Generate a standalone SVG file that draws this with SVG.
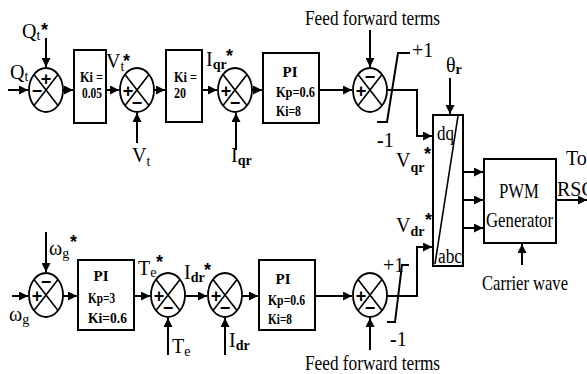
<svg xmlns="http://www.w3.org/2000/svg" xmlns:xlink="http://www.w3.org/1999/xlink" width="587" height="374" viewBox="0 0 587 374">
<style>
.ln{stroke:#000;stroke-width:2;fill:none}
.box{fill:#fff;stroke:#000;stroke-width:2}
.t{font-family:"Liberation Serif",serif;font-size:20px;fill:#000}
.L{font-size:22px}
.s{font-size:14px}
.sb{font-size:14px;font-weight:bold}
.b{font-family:"Liberation Serif",serif;font-weight:bold;font-size:15px;fill:#000}
.st{font-family:"Liberation Sans",sans-serif;font-weight:bold;font-size:18px;fill:#000}
.sg{font-family:"Liberation Sans",sans-serif;font-weight:bold;font-size:18px;text-anchor:middle;fill:#000}
</style>
<defs>
<marker id="ah" markerUnits="userSpaceOnUse" markerWidth="10" markerHeight="9" refX="9" refY="4.5" orient="auto">
<path d="M0,0 L9,4.5 L0,9 z" fill="#000"/>
</marker>
<g id="sumbase">
<ellipse cx="0" cy="0" rx="17" ry="22" fill="#fff" stroke="#000" stroke-width="1.8"/>
<path d="M-12,-15.5 L12,15.5 M12,-15.5 L-12,15.5" stroke="#000" stroke-width="1.6"/>
</g>
</defs>

<g id="connectors">
<path class="ln" d="M8,90 H28" marker-end="url(#ah)"/>
<path class="ln" d="M46,38 V67" marker-end="url(#ah)"/>
<path class="ln" d="M63,90 H73" marker-end="url(#ah)"/>
<path class="ln" d="M106,90 H119" marker-end="url(#ah)"/>
<path class="ln" d="M137,143 V113" marker-end="url(#ah)"/>
<path class="ln" d="M154,90 H165" marker-end="url(#ah)"/>
<path class="ln" d="M202,90 H217" marker-end="url(#ah)"/>
<path class="ln" d="M236,150 V113" marker-end="url(#ah)"/>
<path class="ln" d="M252,90 H262" marker-end="url(#ah)"/>
<path class="ln" d="M319,90 H352" marker-end="url(#ah)"/>
<path class="ln" d="M370,30 V67" marker-end="url(#ah)"/>
<path class="ln" d="M387,90 H417 V136 H432" marker-end="url(#ah)"/>
<path class="ln" d="M450,78 V114" marker-end="url(#ah)"/>
<path class="ln" d="M377,122 H387 L398,53 H410" stroke-width="1.6"/>
<path class="ln" d="M463,172 H483" marker-end="url(#ah)"/>
<path class="ln" d="M463,200 H483" marker-end="url(#ah)"/>
<path class="ln" d="M463,228 H483" marker-end="url(#ah)"/>
<path class="ln" d="M556,200 H587" marker-end="url(#ah)"/>
<path class="ln" d="M522,265 V244" marker-end="url(#ah)"/>
<path class="ln" d="M12,296 H28" marker-end="url(#ah)"/>
<path class="ln" d="M46,232 V272" marker-end="url(#ah)"/>
<path class="ln" d="M63,296 H77" marker-end="url(#ah)"/>
<path class="ln" d="M134,296 H150" marker-end="url(#ah)"/>
<path class="ln" d="M168,355 V318" marker-end="url(#ah)"/>
<path class="ln" d="M185,296 H207" marker-end="url(#ah)"/>
<path class="ln" d="M225,355 V318" marker-end="url(#ah)"/>
<path class="ln" d="M242,296 H258" marker-end="url(#ah)"/>
<path class="ln" d="M315,296 H352" marker-end="url(#ah)"/>
<path class="ln" d="M370,350 V318" marker-end="url(#ah)"/>
<path class="ln" d="M387,296 H417 V247 H432" marker-end="url(#ah)"/>
<path class="ln" d="M387,322 H395 L402,265 H409" stroke-width="1.6"/>
</g>

<g id="sum1">
<use xlink:href="#sumbase" x="46" y="90"/>
<text class="sg" x="46" y="85">+</text>
<text class="sg" x="37" y="97">−</text>
</g>
<g id="ki1">
<rect class="box" x="74" y="50" width="32" height="73"/>
<text class="b" x="80" y="82" textLength="23" lengthAdjust="spacingAndGlyphs">Ki =</text>
<text class="b" x="82" y="98" textLength="20" lengthAdjust="spacingAndGlyphs">0.05</text>
</g>
<g id="sum2">
<use xlink:href="#sumbase" x="137" y="90"/>
<text class="sg" x="128" y="97">+</text>
<text class="sg" x="137" y="109">−</text>
</g>
<g id="ki2">
<rect class="box" x="166" y="50" width="36" height="72"/>
<text class="b" x="174" y="82" textLength="23" lengthAdjust="spacingAndGlyphs">Ki =</text>
<text class="b" x="174" y="98" textLength="12" lengthAdjust="spacingAndGlyphs">20</text>
</g>
<g id="sum3">
<use xlink:href="#sumbase" x="235" y="90"/>
<text class="sg" x="226" y="97">+</text>
<text class="sg" x="235" y="109">−</text>
</g>
<g id="pi1">
<rect class="box" x="263" y="53" width="56" height="70"/>
<text class="b" x="290" y="77" text-anchor="middle">PI</text>
<text class="b" x="276" y="97" textLength="39" lengthAdjust="spacingAndGlyphs">Kp=0.6</text>
<text class="b" x="276" y="116" textLength="25" lengthAdjust="spacingAndGlyphs">Ki=8</text>
</g>
<g id="sum4">
<use xlink:href="#sumbase" x="370" y="90"/>
<text class="sg" x="370" y="83">−</text>
<text class="sg" x="361" y="97">+</text>
</g>
<g id="dqabc">
<rect class="box" x="433" y="115" width="30" height="151"/>
<path d="M458,116 L435,264" stroke="#000" stroke-width="1.6"/>
<text class="t" x="437" y="140" textLength="17" lengthAdjust="spacingAndGlyphs">dq</text>
<text class="t" x="438" y="263" textLength="24" lengthAdjust="spacingAndGlyphs">abc</text>
</g>
<g id="pwm">
<rect class="box" x="484" y="159" width="72" height="84"/>
<text class="t L" x="499" y="198" textLength="40" lengthAdjust="spacingAndGlyphs">PWM</text>
<text class="t L" x="486" y="227" textLength="67" lengthAdjust="spacingAndGlyphs">Generator</text>
</g>

<g id="sum5">
<use xlink:href="#sumbase" x="46" y="295"/>
<text class="sg" x="46" y="288">−</text>
<text class="sg" x="37" y="302">+</text>
</g>
<g id="pi2">
<rect class="box" x="78" y="260" width="56" height="70"/>
<text class="b" x="101" y="281" text-anchor="middle">PI</text>
<text class="b" x="88" y="303" textLength="27" lengthAdjust="spacingAndGlyphs">Kp=3</text>
<text class="b" x="88" y="323" textLength="39" lengthAdjust="spacingAndGlyphs">Ki=0.6</text>
</g>
<g id="sum6">
<use xlink:href="#sumbase" x="168" y="295"/>
<text class="sg" x="159" y="302">+</text>
<text class="sg" x="168" y="314">−</text>
</g>
<g id="sum7">
<use xlink:href="#sumbase" x="225" y="295"/>
<text class="sg" x="216" y="302">+</text>
<text class="sg" x="225" y="314">−</text>
</g>
<g id="pi3">
<rect class="box" x="259" y="260" width="56" height="70"/>
<text class="b" x="283" y="284" text-anchor="middle">PI</text>
<text class="b" x="268" y="305" textLength="37" lengthAdjust="spacingAndGlyphs">Kp=0.6</text>
<text class="b" x="268" y="324" textLength="24" lengthAdjust="spacingAndGlyphs">Ki=8</text>
</g>
<g id="sum8">
<use xlink:href="#sumbase" x="370" y="295"/>
<text class="sg" x="361" y="302">+</text>
<text class="sg" x="370" y="314">−</text>
</g>

<g id="labels">
<text class="t" x="22" y="38">Q<tspan class="s" dy="2">t</tspan></text>
<text class="st" x="41" y="36">*</text>
<text class="t" x="10" y="79">Q<tspan class="s" dy="2">t</tspan></text>
<text class="t" x="106" y="68">V<tspan class="s" dy="3">t</tspan></text>
<text class="st" x="123" y="67">*</text>
<text class="t" x="132" y="162">V<tspan class="s" dy="4">t</tspan></text>
<text class="t" x="206" y="66">I<tspan class="sb" dy="3">qr</tspan></text>
<text class="st" x="226" y="62">*</text>
<text class="t" x="231" y="162">I<tspan class="sb" dy="3">qr</tspan></text>
<text class="t L" x="305" y="25" textLength="135" lengthAdjust="spacingAndGlyphs">Feed forward terms</text>
<text class="t" x="412" y="57">+1</text>
<text class="t" x="377" y="147"><tspan font-weight="bold">-</tspan>1</text>
<text class="t" x="446" y="72">θ<tspan class="sb" dy="2">r</tspan></text>
<text class="t" x="396" y="167">V<tspan class="sb" dy="5">qr</tspan></text>
<text class="st" x="424" y="160">*</text>
<text class="t" x="396" y="232">V<tspan class="sb" dy="4">dr</tspan></text>
<text class="st" x="425" y="226">*</text>
<text class="t" x="566" y="165">To</text>
<text class="t" x="557" y="196">RSC</text>
<text class="t L" x="482" y="290" textLength="86" lengthAdjust="spacingAndGlyphs">Carrier wave</text>
<text class="t" x="49" y="255">ω<tspan class="s" dy="3">g</tspan></text>
<text class="st" x="70" y="248">*</text>
<text class="t" x="9" y="321">ω<tspan class="s" dy="3">g</tspan></text>
<text class="t" x="138" y="275">T<tspan class="s" dy="2">e</tspan></text>
<text class="st" x="156" y="268">*</text>
<text class="t" x="172" y="353">T<tspan class="s" dy="3">e</tspan></text>
<text class="t" x="184" y="279">I<tspan class="sb" dy="3">dr</tspan></text>
<text class="st" x="204" y="276">*</text>
<text class="t" x="229" y="347">I<tspan class="sb" dy="3">dr</tspan></text>
<text class="t" x="383" y="272">+1</text>
<text class="t" x="390" y="346" font-size="18"><tspan font-weight="bold">-</tspan>1</text>
<text class="t L" x="305" y="370" textLength="135" lengthAdjust="spacingAndGlyphs">Feed forward terms</text>
</g>
</svg>
